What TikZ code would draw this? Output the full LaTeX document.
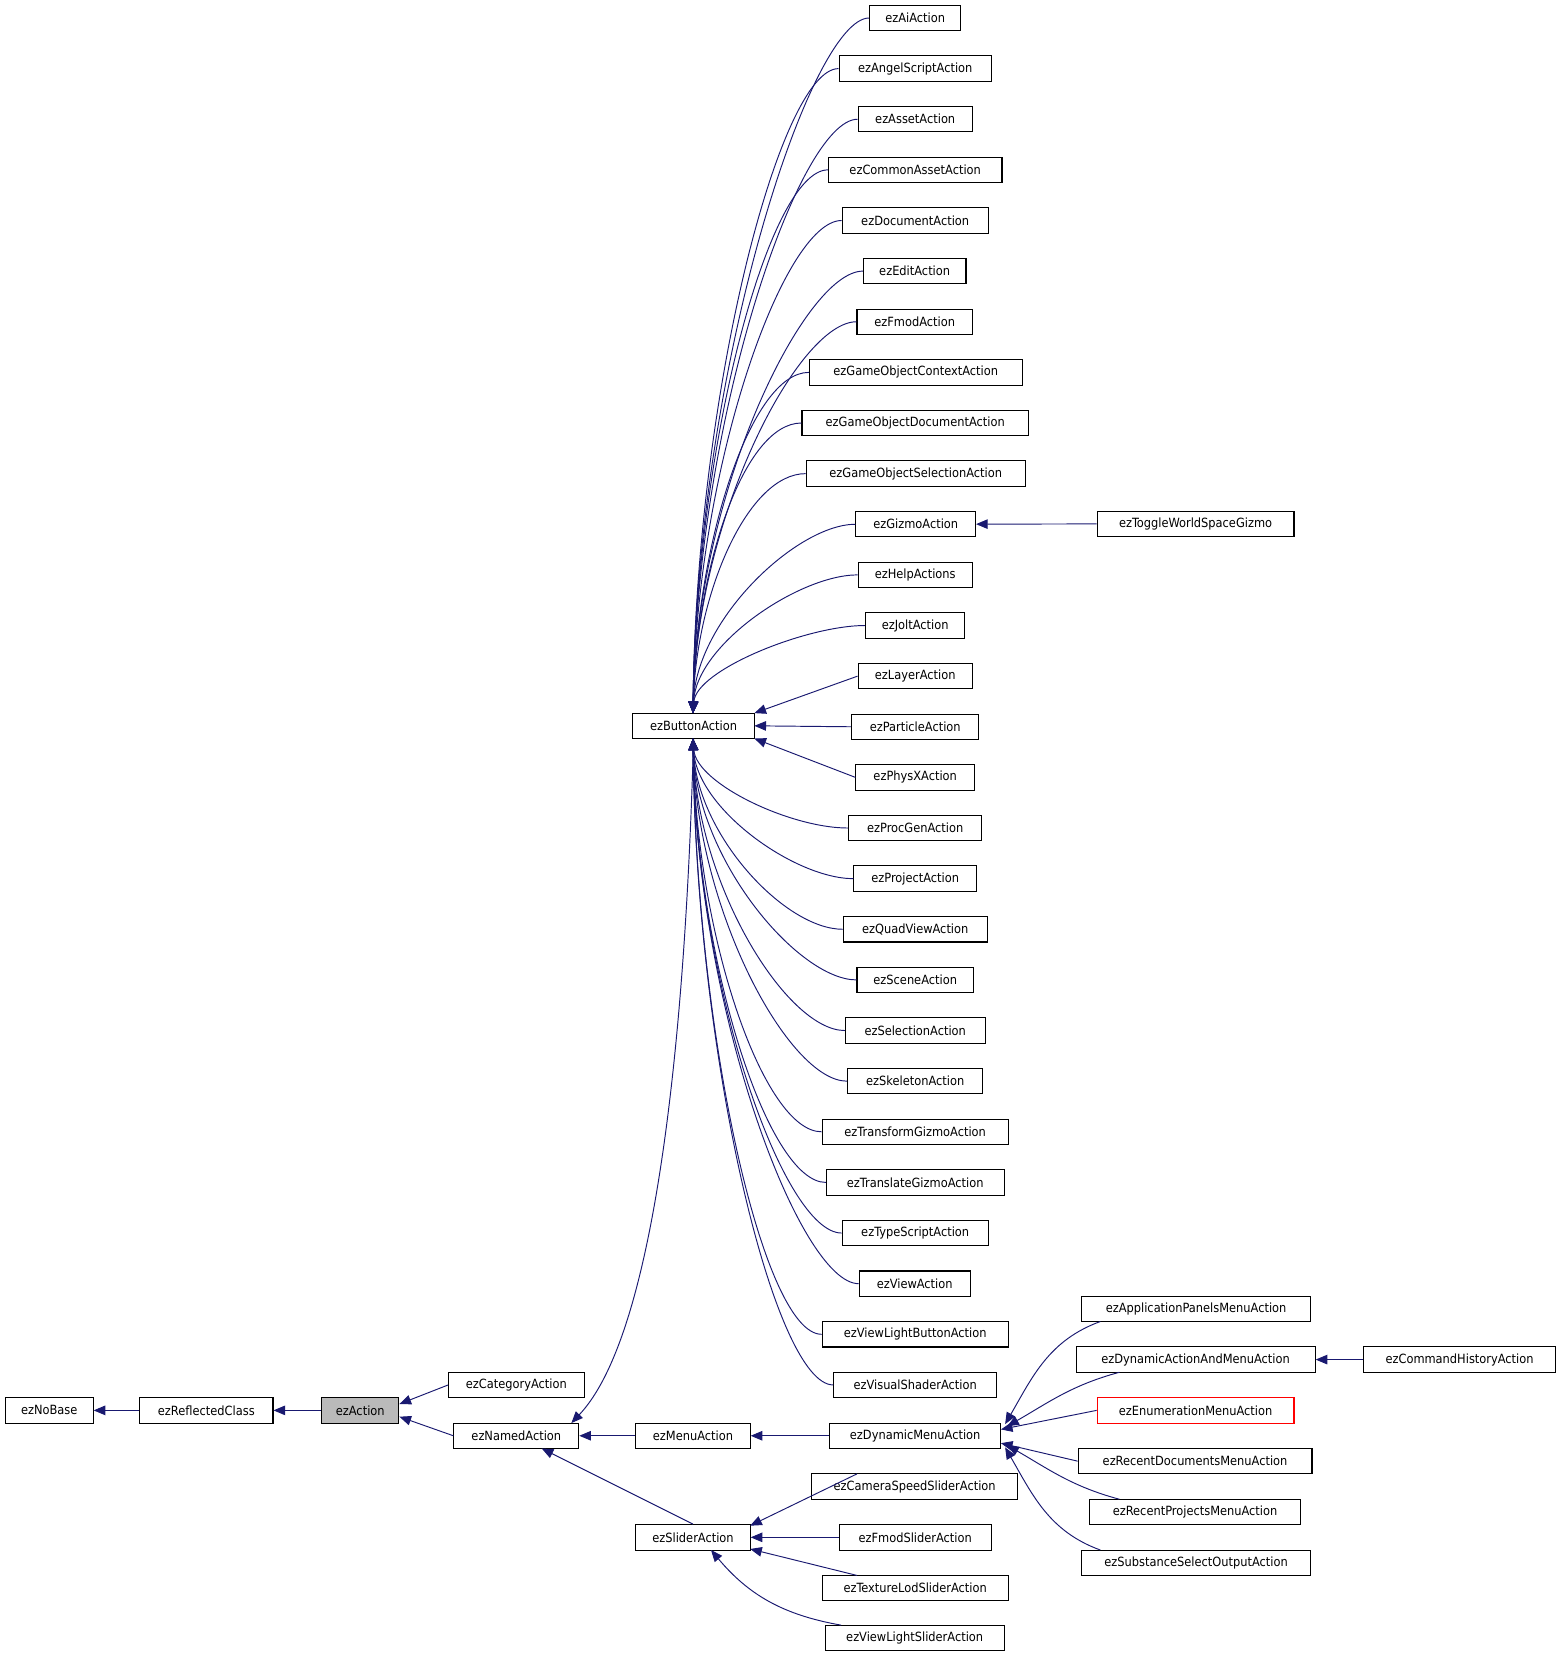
\documentclass[tikz,border=0pt]{standalone}
\usepackage{fontspec}
\setmainfont{DejaVu Sans Condensed}
\usetikzlibrary{arrows.meta,calc}
\definecolor{edgec}{HTML}{191970}
\tikzset{
  cls/.style={draw=black,fill=white,line width=1pt,minimum height=24pt,inner xsep=0pt,inner ysep=0pt,font=\fontsize{12}{14}\selectfont},
  edge/.style={draw=edgec,line width=0.9pt,-{Triangle[length=11pt,width=9pt]}},
}
\begin{document}
\begin{tikzpicture}[x=1pt,y=-1pt]
\useasboundingbox (0,0) rectangle (1475,1568);
\newcommand\cl[5][]{\node[cls,#1,minimum width={#4-#3}] (#2) at ({(#3+#4)/2},#5) {#2};}
\cl{ezNoBase}{5}{88}{1333}
\cl{ezReflectedClass}{132}{258}{1333}
\cl[fill=black!27]{ezAction}{304}{377}{1333}
\cl{ezCategoryAction}{424}{552}{1309}
\cl{ezNamedAction}{429}{547}{1357}
\cl{ezButtonAction}{598}{713}{686}
\cl{ezMenuAction}{601}{709}{1357}
\cl{ezSliderAction}{601}{709}{1453}
\cl{ezDynamicMenuAction}{784}{946}{1357}
\cl{ezToggleWorldSpaceGizmo}{1037}{1223}{495}
\cl{ezApplicationPanelsMenuAction}{1022}{1239}{1237}
\cl{ezDynamicActionAndMenuAction}{1017}{1243}{1285}
\cl{ezCommandHistoryAction}{1289}{1470}{1285}
\cl[draw=red]{ezEnumerationMenuAction}{1037}{1223}{1333}
\cl{ezRecentDocumentsMenuAction}{1019}{1240}{1381}
\cl{ezRecentProjectsMenuAction}{1030}{1229}{1429}
\cl{ezSubstanceSelectOutputAction}{1022}{1239}{1477}
\cl{ezCameraSpeedSliderAction}{767}{962}{1405}
\cl{ezFmodSliderAction}{793}{937}{1453}
\cl{ezTextureLodSliderAction}{777}{953}{1501}
\cl{ezViewLightSliderAction}{780}{949}{1548}
% button children
\foreach \n/\a/\b [count=\i from 0] in {
 ezAiAction/822/908, ezAngelScriptAction/793/937, ezAssetAction/811/919,
 ezCommonAssetAction/783/947, ezDocumentAction/796/934, ezEditAction/816/913,
 ezFmodAction/810/919, ezGameObjectContextAction/765/966,
 ezGameObjectDocumentAction/758/972, ezGameObjectSelectionAction/762/969,
 ezGizmoAction/809/922, ezHelpActions/811/919, ezJoltAction/818/912,
 ezLayerAction/811/919, ezParticleAction/805/925, ezPhysXAction/809/921,
 ezProcGenAction/802/928, ezProjectAction/807/923, ezQuadViewAction/797/933,
 ezSceneAction/810/920, ezSelectionAction/799/931, ezSkeletonAction/801/929,
 ezTransformGizmoAction/777/953, ezTranslateGizmoAction/781/949,
 ezTypeScriptAction/796/934, ezViewAction/812/917,
 ezViewLightButtonAction/777/953, ezVisualShaderAction/788/942}{
  \pgfmathsetmacro\yc{17+47.85*\i}
  \node[cls,minimum width={\b-\a}] (\n) at ({(\a+\b)/2},\yc) {\n};
  \ifnum\i=13 \path[edge] (\n.west) -- (713,674);
  \else\ifnum\i=14 \path[edge] (\n.west) -- (713,686);
  \else\ifnum\i=15 \path[edge] (\n.west) -- (713,698);
  \else\ifnum\i<13
    \pgfmathsetmacro\my{(\yc+675)/2}
    \path[edge] (\n.west) .. controls ($(\n.west)+(-55,0)$) and (658,\my) .. (655,674);
  \else
    \pgfmathsetmacro\my{(\yc+698)/2}
    \path[edge] (\n.west) .. controls ($(\n.west)+(-55,0)$) and (658,\my) .. (655,698);
  \fi\fi\fi\fi
}
\path[edge] (ezReflectedClass) -- (ezNoBase);
\path[edge] (ezAction) -- (ezReflectedClass);
\path[edge] (ezCategoryAction.west) -- (ezAction.east |- 0,1327);
\path[edge] (ezNamedAction.west) -- (ezAction.east |- 0,1339);
\path[edge] (ezButtonAction.south) .. controls (650,900) and (630,1250) .. (540,1345);
\path[edge] (ezMenuAction) -- (ezNamedAction);
\path[edge] (ezSliderAction.north) -- (512,1369);
\path[edge] (ezDynamicMenuAction) -- (ezMenuAction);
\path[edge] (ezToggleWorldSpaceGizmo) -- (ezGizmoAction);
\path[edge] (ezCommandHistoryAction) -- (ezDynamicActionAndMenuAction);
\path[edge] (1040,1249) to[out=200,in=60] (950,1346);
\path[edge] (1058,1297) to[out=195,in=30] (952,1348);
\path[edge] (ezEnumerationMenuAction.west) -- (946,1351);
\path[edge] (ezRecentDocumentsMenuAction.west) -- (946,1364);
\path[edge] (1058,1417) to[out=165,in=-30] (952,1366);
\path[edge] (1040,1465) to[out=160,in=-60] (950,1368);
\path[edge] (810,1393) -- (709,1442);
\path[edge] (ezFmodSliderAction.west) -- (ezSliderAction.east);
\path[edge] (810,1489) -- (709,1464);
\path[edge] (795,1536) to[out=170,in=-50] (672,1465);
\end{tikzpicture}
\end{document}
